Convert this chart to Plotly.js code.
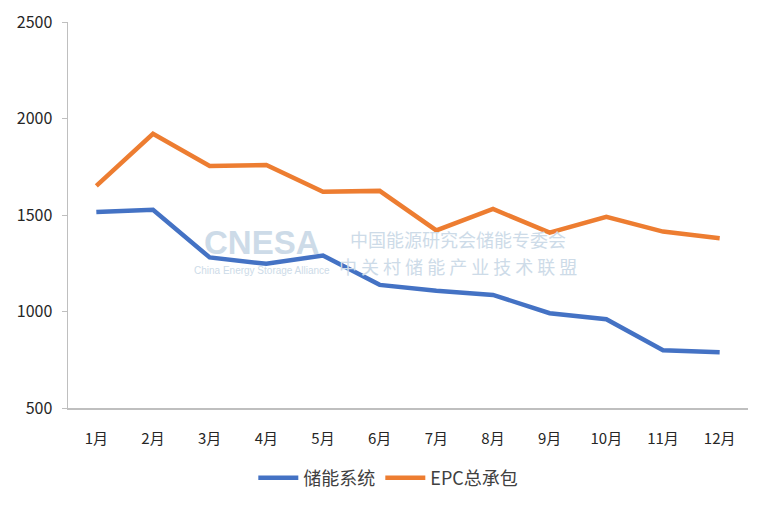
<!DOCTYPE html>
<html><head><meta charset="utf-8">
<script src="https://cdn.plot.ly/plotly-3.0.1.min.js"></script>
<style>body{margin:0;background:#fff}#c{width:772px;height:509px}</style>
</head><body><div id="c"></div>
<script>
const months = ['1月','2月','3月','4月','5月','6月','7月','8月','9月','10月','11月','12月'];
const storageSystem = [1515,1527,1280,1247,1290,1138,1107,1086,991,960,799,789];
const epcTotal = [1651,1921,1754,1759,1620,1625,1420,1531,1409,1491,1414,1380];
const seriesNames = ['储能系统','EPC总承包'];
const yTicks = [500,1000,1500,2000,2500];

const font = "'Noto Sans CJK SC', 'Liberation Sans', sans-serif";
const traces = [
  {x: months, y: storageSystem, name: seriesNames[0], type:'scatter', mode:'lines',
   line:{color:'#4472C4', width:4.5}},
  {x: months, y: epcTotal, name: seriesNames[1], type:'scatter', mode:'lines',
   line:{color:'#ED7D31', width:4.5}}
];
const wm = '#cddbe8';
const layout = {
  width:772, height:509,
  margin:{l:68, r:24, t:22, b:101, autoexpand:false},
  paper_bgcolor:'#fff', plot_bgcolor:'#fff',
  font:{family:font, size:14, color:'#404040'},
  showlegend:true,
  legend:{orientation:'h', xref:'container', yref:'container', x:0.503, xanchor:'center',
          y:31/509, yanchor:'middle',
          font:{size:18, color:'#404040'}, itemwidth:40, tracegroupgap:0},
  xaxis:{type:'category', showgrid:false, zeroline:false, showline:true,
         linecolor:'#bfbfbf', linewidth:1.5, ticks:'', tickfont:{size:15, color:'#262626'},
         range:[-0.5,11.5], ticklabelstandoff:16},
  yaxis:{range:[500,2500], tickvals:yTicks, showgrid:false, zeroline:false,
         showline:true, linecolor:'#bfbfbf', linewidth:1.5, ticks:'outside',
         ticklen:5, tickcolor:'#bfbfbf', tickfont:{size:16, color:'#262626'}, ticklabelstandoff:6},
  annotations:[
    {xref:'paper', yref:'paper', x:(262-68)/680, y:(408-242)/386, xanchor:'center', yanchor:'middle',
     text:'<b>CNESA</b>',
     showarrow:false, font:{family:"'Liberation Sans', Arial, sans-serif", size:33, color:wm}},
    {xref:'paper', yref:'paper', x:(262-68)/680, y:(408-270)/386, xanchor:'center', yanchor:'middle',
     text:'China Energy Storage Alliance',
     showarrow:false, font:{family:"'Liberation Sans', Arial, sans-serif", size:10, color:wm}},
    {xref:'paper', yref:'paper', x:(458-68)/680, y:(408-239)/386, xanchor:'center', yanchor:'middle',
     text:'中国能源研究会储能专委会',
     showarrow:false, font:{family:font, size:18, color:wm}},
    {xref:'paper', yref:'paper', x:(458-68)/680, y:(408-266)/386, xanchor:'center', yanchor:'middle',
     text:'中 关 村 储 能 产 业 技 术 联 盟',
     showarrow:false, font:{family:font, size:18, color:wm}}
  ]
};
Plotly.newPlot('c', traces, layout, {displayModeBar:false, staticPlot:true});
</script></body></html>
